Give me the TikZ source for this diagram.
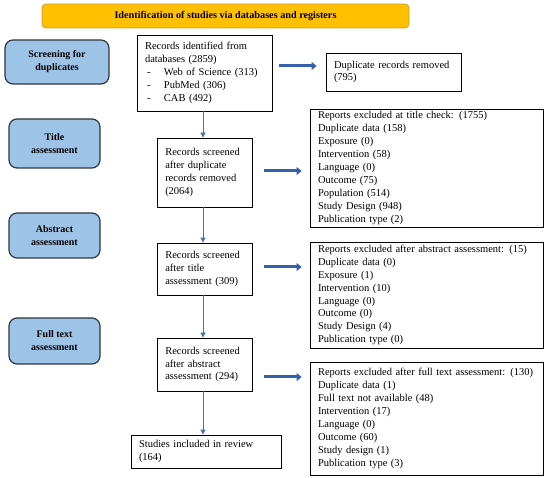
\documentclass[tikz,border=0pt]{standalone}
\usepackage{fontspec}
\setmainfont{Liberation Serif}
\usetikzlibrary{arrows.meta}
\definecolor{bannerfill}{HTML}{FFC000}
\definecolor{bannerdraw}{HTML}{C9A030}
\definecolor{stagefill}{HTML}{9DC3E6}
\definecolor{stagedraw}{HTML}{2E3640}
\definecolor{varrowc}{HTML}{4472C4}
\definecolor{harrowc}{HTML}{3560AE}
\tikzset{
  banner/.style={draw=bannerdraw, fill=bannerfill, rounded corners=4pt, line width=0.8pt,
    font=\fontsize{10.2}{12}\selectfont\bfseries, inner sep=0pt},
  stage/.style={draw=stagedraw, fill=stagefill, rounded corners=8pt, line width=1.2pt,
    font=\fontsize{10}{13}\selectfont\bfseries, align=center, inner sep=0pt},
  box/.style={draw=black, line width=0.8pt, align=left, inner xsep=8pt, inner ysep=2pt,
    font=\fontsize{10.5}{12.9}\selectfont},
  varrow/.style={draw=varrowc, line width=0.8pt, -{Triangle[length=5pt,width=5pt]}},
  harrow/.style={draw=harrowc, line width=3pt, -{Triangle[length=5pt,width=8pt]}},
}
\newcommand{\bullitem}[1]{\makebox[19pt][l]{\hspace{2pt}-}#1}
\begin{document}
\begin{tikzpicture}[x=1pt,y=-1pt]
\path[use as bounding box] (0,0) rectangle (550,478);
% banner
\node[banner, minimum width=367pt, minimum height=24pt] (ban) at (225.5,16) {Identification of studies via databases and registers};
% stages
\node[stage, minimum width=104pt, minimum height=44pt] (scr) at (57,62) {Screening for\\duplicates};
\node[stage, minimum width=91pt, minimum height=49pt] (tit) at (54.5,143.5) {Title\\assessment};
\node[stage, minimum width=91pt, minimum height=45pt] (abs) at (54.5,235.5) {Abstract\\assessment};
\node[stage, minimum width=91pt, minimum height=46pt] (ful) at (54.5,341) {Full text\\assessment};
% centre column
\node[box, text width=119pt, minimum height=76pt] (rid) at (204.5,73) {Records identified from\\databases (2859)\\\bullitem{Web of Science (313)}\\\bullitem{PubMed (306)}\\\bullitem{CAB (492)}};
\node[box, text width=79.5pt, minimum height=69pt] (s1) at (205,172.5) {Records screened\\after duplicate\\records removed\\(2064)};
\node[box, text width=79.5pt, minimum height=52pt] (s2) at (205,269) {Records screened\\after title\\assessment (309)};
\node[box, text width=79.5pt, minimum height=53pt] (s3) at (205,364.5) {Records screened\\after abstract\\assessment (294)};
\node[box, text width=134pt, minimum height=33pt] (stu) at (206,451.5) {Studies included in review\\(164)};
% right column
\node[box, text width=119pt, minimum height=38pt] (dup) at (393.5,72) {Duplicate records removed\\(795)};
\node[box, text width=217pt, minimum height=118pt] (e1) at (426.5,168) {Reports excluded at title check: (1755)\\Duplicate data (158)\\Exposure (0)\\Intervention (58)\\Language (0)\\Outcome (75)\\Population (514)\\Study Design (948)\\Publication type (2)};
\node[box, text width=217pt, minimum height=106pt] (e2) at (426.5,295) {Reports excluded after abstract assessment: (15)\\Duplicate data (0)\\Exposure (1)\\Intervention (10)\\Language (0)\\Outcome (0)\\Study Design (4)\\Publication type (0)};
\node[box, text width=217pt, minimum height=113pt] (e3) at (426.5,418.5) {Reports excluded after full text assessment: (130)\\Duplicate data (1)\\Full text not available (48)\\Intervention (17)\\Language (0)\\Outcome (60)\\Study design (1)\\Publication type (3)};
% helper coordinates
\coordinate (vx) at (203,0);
\coordinate (h1) at (0,66);
\coordinate (h2) at (0,171);
\coordinate (h3) at (0,267);
\coordinate (h4) at (0,377);
% vertical arrows
\draw[varrow] (rid.south -| vx) -- (s1.north -| vx);
\draw[varrow] (s1.south -| vx) -- (s2.north -| vx);
\draw[varrow] (s2.south -| vx) -- (s3.north -| vx);
\draw[varrow] (s3.south -| vx) -- (stu.north -| vx);
% horizontal arrows
\draw[harrow, shorten <=7pt, shorten >=9pt] (rid.east |- h1) -- (dup.west |- h1);
\draw[harrow, shorten <=11pt, shorten >=8pt] (s1.east |- h2) -- (e1.west |- h2);
\draw[harrow, shorten <=11pt, shorten >=8pt] (s2.east |- h3) -- (e2.west |- h3);
\draw[harrow, shorten <=11pt, shorten >=8pt] (s3.east |- h4) -- (e3.west |- h4);
\end{tikzpicture}
\end{document}
